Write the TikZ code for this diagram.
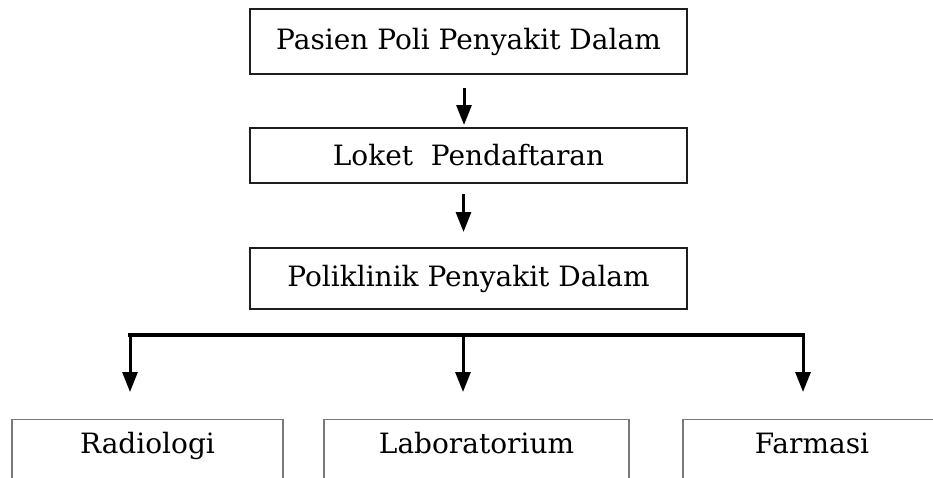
\documentclass[tikz,border=0pt]{standalone}
\definecolor{garisgelap}{HTML}{1E1E1E}
\definecolor{garisabu}{HTML}{7A7A7A}
\usepackage{fontspec}
\setmainfont{DejaVu Serif}
\usepackage{tikz}
\usetikzlibrary{arrows.meta, calc}

\tikzset{
  kotak/.style={draw=garisgelap, line width=2pt, minimum width=437pt,
                inner sep=0pt, text=black, font=\fontsize{28}{32}\selectfont},
  kotakbawah/.style={draw=garisabu, line width=1.2pt, anchor=north, inner sep=0pt,
                text height=34pt, text depth=70pt, text=black,
                font=\fontsize{28}{32}\selectfont},
  panah/.style={draw=black, line width=3pt,
                -{Triangle[length=20pt,width=15pt]}},
  garis/.style={draw=black, line width=4pt, line cap=rect}
}

\begin{document}
\begin{tikzpicture}[x=1pt, y=-1pt]
  \clip (0,0) rectangle (933,477);
  \fill[white] (0,0) rectangle (933,477);

  % alur atas
  \node[kotak, minimum height=65pt] (pasien) at (468.5,41.5) {Pasien Poli Penyakit Dalam};
  \node[kotak, minimum height=55pt] (loket) at (468.5,155.5) {Loket\ \ Pendaftaran};
  \node[kotak, minimum height=61pt] (poli) at (468.5,278.5) {Poliklinik Penyakit Dalam};

  \draw[panah, shorten <=13pt, shorten >=2pt]
    ([xshift=-4.5pt]pasien.south) -- ([xshift=-4.5pt]loket.north);
  \draw[panah, shorten <=10pt, shorten >=15pt]
    ([xshift=-5pt]loket.south) -- ([xshift=-5pt]poli.north);

  % unit penunjang
  \node[kotakbawah, minimum width=271pt] (radiologi) at (147.5,419) {Radiologi};
  \node[kotakbawah, minimum width=305pt] (lab) at (476.5,419) {Laboratorium};
  \node[kotakbawah, minimum width=258pt] (farmasi) at (812,419) {Farmasi};

  \coordinate (kiri) at (130,335);
  \coordinate (tengah) at (463,335);
  \coordinate (kanan) at (803,335);

  \draw[garis] (kiri) -- (kanan);
  \draw[panah, shorten >=27pt] (kiri) -- (radiologi.north -| kiri);
  \draw[panah, shorten >=27pt] (tengah) -- (lab.north -| tengah);
  \draw[panah, shorten >=27pt] (kanan) -- (farmasi.north -| kanan);
\end{tikzpicture}
\end{document}
